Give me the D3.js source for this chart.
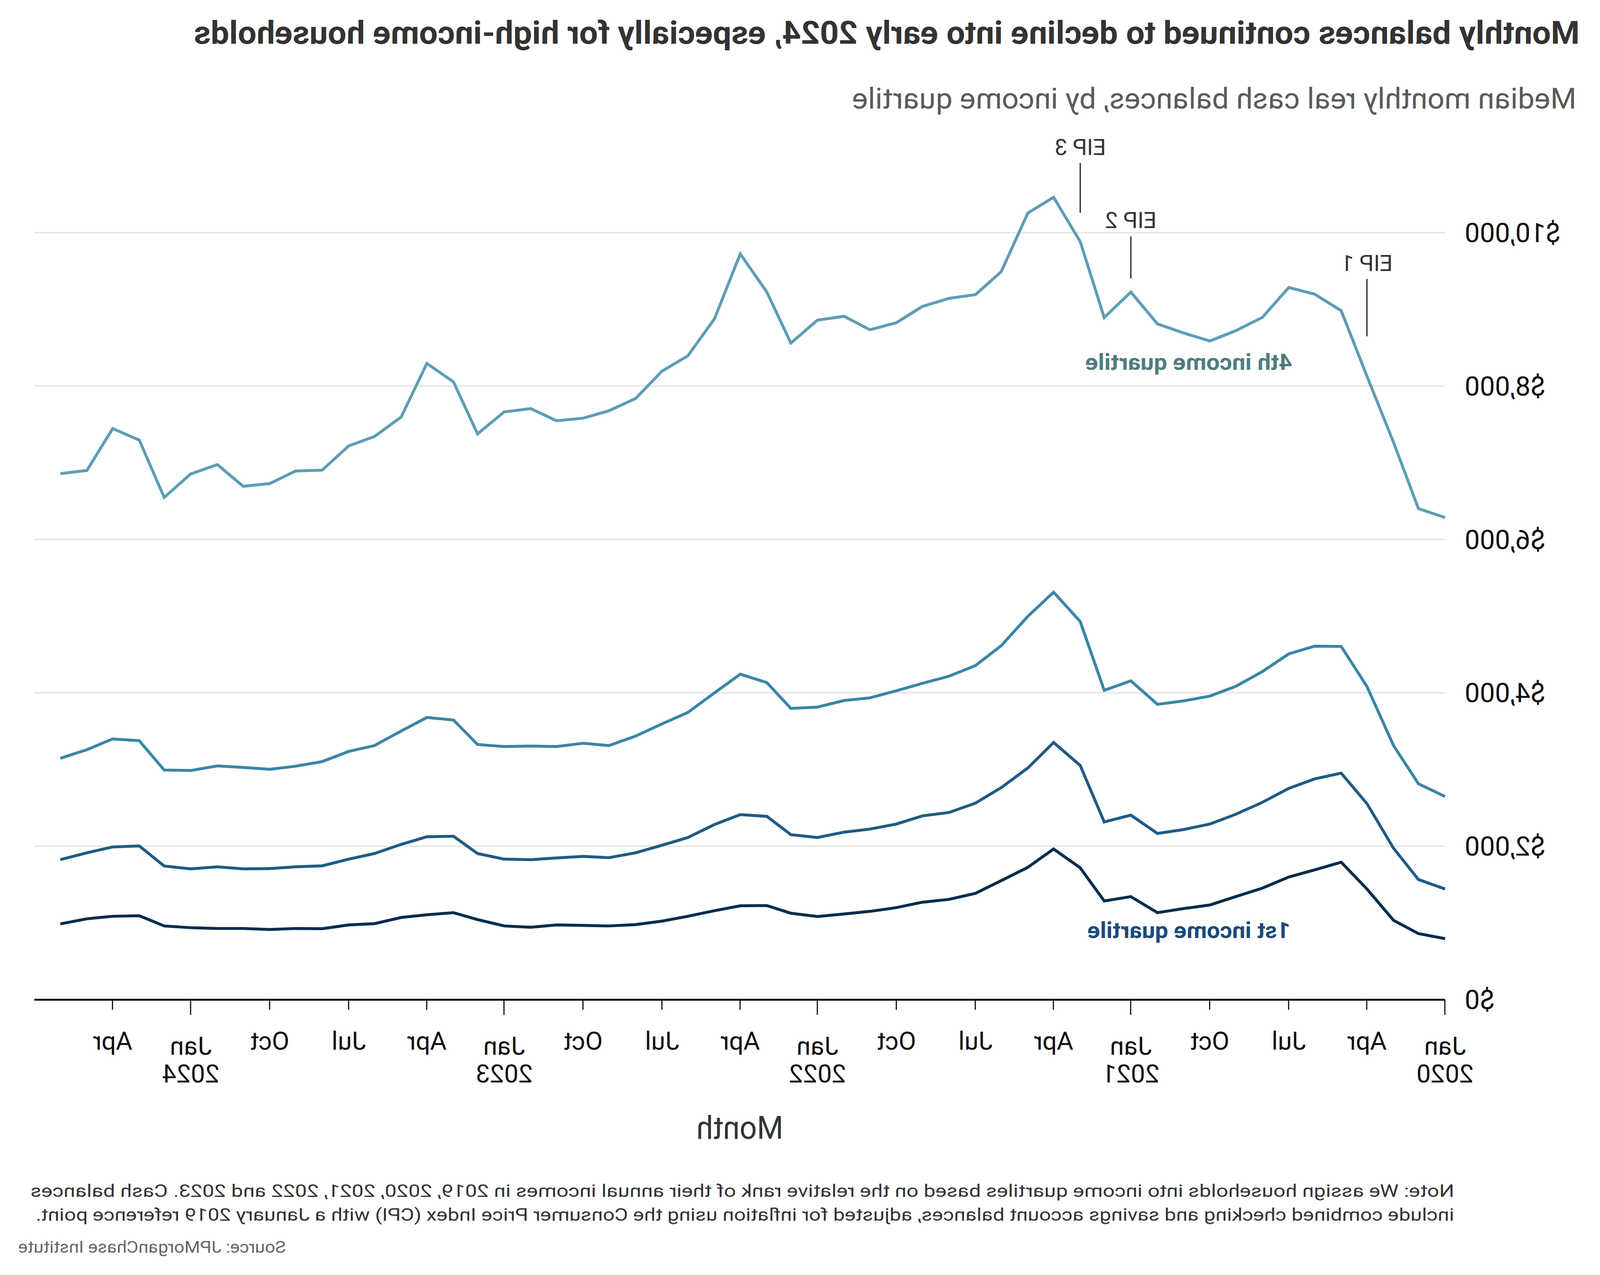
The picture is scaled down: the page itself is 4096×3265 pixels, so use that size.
<!DOCTYPE html>
<html><head><meta charset="utf-8">
<script src="https://cdn.jsdelivr.net/npm/d3@7"></script>
<style>html,body{margin:0;padding:0;background:#fff;overflow:hidden;} svg{display:block;}</style>
</head><body>
<svg id="chart" width="4096" height="3265"></svg>
<script>
// ---------------- data ----------------
const months = ["2020-01","2020-02","2020-03","2020-04","2020-05","2020-06","2020-07","2020-08","2020-09","2020-10","2020-11","2020-12",
"2021-01","2021-02","2021-03","2021-04","2021-05","2021-06","2021-07","2021-08","2021-09","2021-10","2021-11","2021-12",
"2022-01","2022-02","2022-03","2022-04","2022-05","2022-06","2022-07","2022-08","2022-09","2022-10","2022-11","2022-12",
"2023-01","2023-02","2023-03","2023-04","2023-05","2023-06","2023-07","2023-08","2023-09","2023-10","2023-11","2023-12",
"2024-01","2024-02","2024-03","2024-04","2024-05","2024-06"];
const quartile4 = [6286,6402,7266,8130,8983,9199,9286,8894,8721,8588,8694,8811,9226,8894,9884,10462,10256,9492,9193,9143,9037,8827,8734,8910,8860,8561,9226,9724,8877,8395,8196,7837,7678,7581,7548,7706,7663,7377,8054,8295,7596,7343,7220,6904,6892,6729,6693,6976,6855,6548,7295,7446,6900,6858];
const quartile3 = [2648,2814,3312,4083,4605,4608,4508,4276,4083,3957,3894,3850,4156,4033,4930,5312,4997,4615,4355,4216,4123,4027,3934,3900,3814,3797,4133,4243,4000,3744,3595,3435,3312,3342,3299,3306,3299,3326,3645,3678,3502,3312,3236,3103,3043,3003,3027,3047,2987,2993,3375,3399,3259,3146];
const quartile2 = [1442,1565,1973,2555,2953,2877,2754,2571,2415,2289,2216,2166,2405,2316,3053,3352,3020,2764,2561,2439,2395,2289,2223,2183,2113,2150,2389,2412,2282,2113,2013,1914,1850,1867,1847,1824,1831,1904,2130,2123,2023,1904,1831,1744,1731,1708,1704,1731,1704,1741,2003,1990,1914,1824];
const quartile1 = [794,860,1033,1442,1791,1691,1598,1452,1342,1233,1186,1133,1342,1286,1718,1963,1724,1551,1385,1306,1269,1199,1150,1116,1083,1126,1226,1223,1159,1086,1023,977,960,967,973,943,960,1043,1133,1106,1070,990,973,924,927,914,927,927,937,960,1093,1086,1053,987];
const seriesNames = ["4th income quartile","3rd income quartile","2nd income quartile","1st income quartile"];
const seriesColors = ["#5d9db5","#3b85a8","#1f5b85","#062c4c"];
const yTickValues = [0,2000,4000,6000,8000,10000];
const yTickLabels = ["$0","$2,000","$4,000","$6,000","$8,000","$10,000"];
const xTickMonths = ["2020-01","2020-04","2020-07","2020-10","2021-01","2021-04","2021-07","2021-10","2022-01","2022-04","2022-07","2022-10","2023-01","2023-04","2023-07","2023-10","2024-01","2024-04"];
const xTickLabels = ["Jan|2020","Apr","Jul","Oct","Jan|2021","Apr","Jul","Oct","Jan|2022","Apr","Jul","Oct","Jan|2023","Apr","Jul","Oct","Jan|2024","Apr"];
const eipMonths = ["2020-04","2021-01","2021-03"];
const eipLabels = ["EIP 1","EIP 2","EIP 3"];
const eipTextValue = [9502,10062,11015];
const eipLineTop = [9398,9953,10910];
const eipLineBottom = [8649,9403,10261];

// ---------------- drawing ----------------
const S = 4096/4399;
const FONT = "Roboto, 'Liberation Sans', sans-serif";
const parse = d3.timeParse("%Y-%m");
const svg = d3.select("#chart");
svg.append("rect").attr("width",4096).attr("height",3265).attr("fill","#fff");
const g = svg.append("g").attr("transform",`translate(4096,0) scale(${-S},${S})`).style("font-family",FONT);

const x = d3.scaleTime().domain([parse("2020-01"), parse("2024-07")]).range([426, 4304]);
const y = d3.scaleLinear().domain([0,10000]).range([2749, 640]);

function fitText(sel, w){ sel.attr("textLength", w).attr("lengthAdjust","spacingAndGlyphs"); return sel; }

// title & subtitle
fitText(g.append("text").attr("x",56).attr("y",120).attr("font-size",87).attr("font-weight",700).attr("fill","#333")
  .text("Monthly balances continued to decline into early 2024, especially for high-income households"), 3810);
fitText(g.append("text").attr("x",65).attr("y",299).attr("font-size",79).attr("fill","#5a5a5a")
  .text("Median monthly real cash balances, by income quartile"), 1991);

// gridlines
g.append("g").selectAll("line").data(yTickValues.filter(v=>v>0)).join("line")
  .attr("x1",x.range()[0]).attr("x2",x.range()[1]).attr("y1",d=>y(d)).attr("y2",d=>y(d))
  .attr("stroke","#e6e6e6").attr("stroke-width",4);

// y labels
g.append("g").selectAll("text").data(yTickValues).join("text")
  .attr("x",372).attr("y",d=>y(d)).attr("dy","0.35em").attr("text-anchor","end")
  .attr("font-size",74).attr("fill","#111").text((d,i)=>yTickLabels[i]);

// x axis
const ax = d3.axisBottom(x).tickValues(xTickMonths.map(parse)).tickFormat("").tickSize(28).tickSizeOuter(0);
const axG = g.append("g").attr("transform",`translate(0,${y(0)})`).call(ax);
axG.select(".domain").attr("stroke","#000").attr("stroke-width",5);
axG.selectAll(".tick line").attr("stroke","#000").attr("stroke-width",3)
  .attr("y2", d => d.getMonth()===0 ? 42 : 28);
const tl = g.append("g").selectAll("text").data(xTickMonths).join("text")
  .attr("x", d => x(parse(d)))
  .attr("y", d => y(0) + (parse(d).getMonth()===0 ? 42 : 28) + 110)
  .attr("text-anchor","middle").attr("font-size",70).attr("fill","#111");
tl.each(function(d,i){
  const parts = xTickLabels[i].split("|");
  const t = d3.select(this);
  parts.forEach((p,j)=> t.append("tspan").attr("x", x(parse(d))).attr("dy", j===0?0:76).text(p));
});
fitText(g.append("text").attr("x",(x.range()[0]+x.range()[1])/2).attr("y",3132).attr("text-anchor","middle")
  .attr("font-size",88).attr("fill","#333").text("Month"), 239);

// lines
const allSeries = [quartile4, quartile3, quartile2, quartile1];
const line = d3.line().x((d,i)=>x(parse(months[i]))).y(d=>y(d));
g.append("g").selectAll("path").data(allSeries).join("path")
  .attr("d", d=>line(d)).attr("fill","none")
  .attr("stroke",(d,i)=>seriesColors[i]).attr("stroke-width",8).attr("stroke-linejoin","miter");

// series labels
fitText(g.append("text").attr("x",846).attr("y",1017).attr("font-size",62).attr("font-weight",700)
  .attr("fill","#4f7c7e").text(seriesNames[0]), 569);
fitText(g.append("text").attr("x",851).attr("y",2580).attr("font-size",62).attr("font-weight",700)
  .attr("fill","#1b4a78").text(seriesNames[3]), 558);

// EIP annotations
const ann = g.append("g");
eipMonths.forEach((m,i)=>{
  const xm = x(parse(m));
  ann.append("line").attr("x1",xm).attr("x2",xm).attr("y1",y(eipLineTop[i])).attr("y2",y(eipLineBottom[i]))
    .attr("stroke","#111").attr("stroke-width",3);
  ann.append("text").attr("x",xm).attr("y",y(eipTextValue[i])).attr("text-anchor","middle")
    .attr("font-size",62).attr("fill","#333").text(eipLabels[i]);
});

// notes
fitText(g.append("text").attr("x",401).attr("y",3292).attr("font-size",48).attr("fill","#333")
  .text("Note: We assign households into income quartiles based on the relative rank of their annual incomes in 2019, 2020, 2021, 2022 and 2023. Cash balances"), 3914);
fitText(g.append("text").attr("x",401).attr("y",3357).attr("font-size",48).attr("fill","#333")
  .text("include combined checking and savings account balances, adjusted for inflation using the Consumer Price Index (CPI) with a January 2019 reference point."), 3900);
fitText(g.append("text").attr("x",4349).attr("y",3445).attr("text-anchor","end").attr("font-size",46).attr("fill","#666")
  .text("Source: JPMorganChase Institute"), 736);
</script>
</body></html>
